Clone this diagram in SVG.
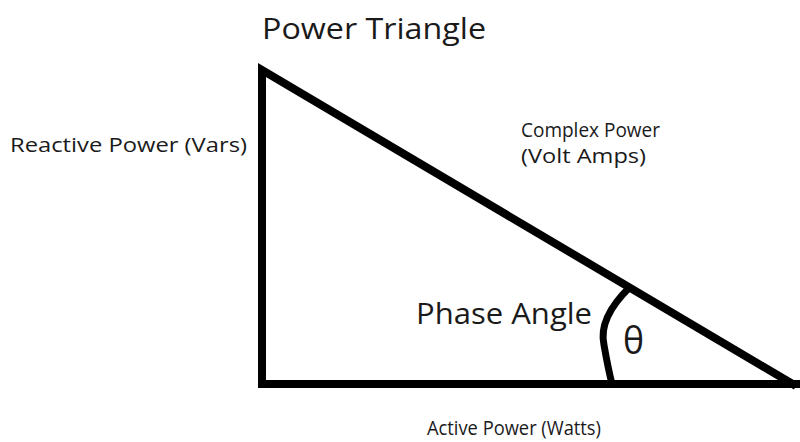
<svg xmlns="http://www.w3.org/2000/svg" width="800" height="442" viewBox="0 0 800 442">
<style>
.t{font-family:"Open Sans","Liberation Sans",sans-serif;fill:#1a1a1a}
.s{font-size:20px}
.l{font-size:29px}
.e{fill:none;stroke:#000;stroke-width:8;stroke-linecap:butt;stroke-linejoin:miter}
</style>
<rect width="800" height="442" fill="#fff"/>
<g id="title"><text class="t l" x="262" y="39" textLength="224" lengthAdjust="spacingAndGlyphs">Power Triangle</text></g>
<g id="connectors">
<path class="e" d="M262,388 L262,70 L796,386"/>
<path class="e" d="M258,384 L800,384"/>
<path d="M630,287 Q598,318 604,345 Q608,368 612,384" fill="none" stroke="#000" stroke-width="7"/>
</g>
<g id="reactive"><text class="t s" x="10" y="152" textLength="237" lengthAdjust="spacingAndGlyphs">Reactive Power (Vars)</text></g>
<g id="complex"><text class="t s" x="521" y="137" textLength="139" lengthAdjust="spacingAndGlyphs">Complex Power</text><text class="t s" x="521" y="163" textLength="125" lengthAdjust="spacingAndGlyphs">(Volt Amps)</text></g>
<g id="phase"><text class="t l" x="416" y="324" textLength="176" lengthAdjust="spacingAndGlyphs">Phase Angle</text></g>
<g id="theta"><text class="t" x="623" y="354" font-size="38" textLength="21" lengthAdjust="spacingAndGlyphs">θ</text></g>
<g id="active"><text class="t s" x="427" y="435" textLength="174" lengthAdjust="spacingAndGlyphs">Active Power (Watts)</text></g>
</svg>
